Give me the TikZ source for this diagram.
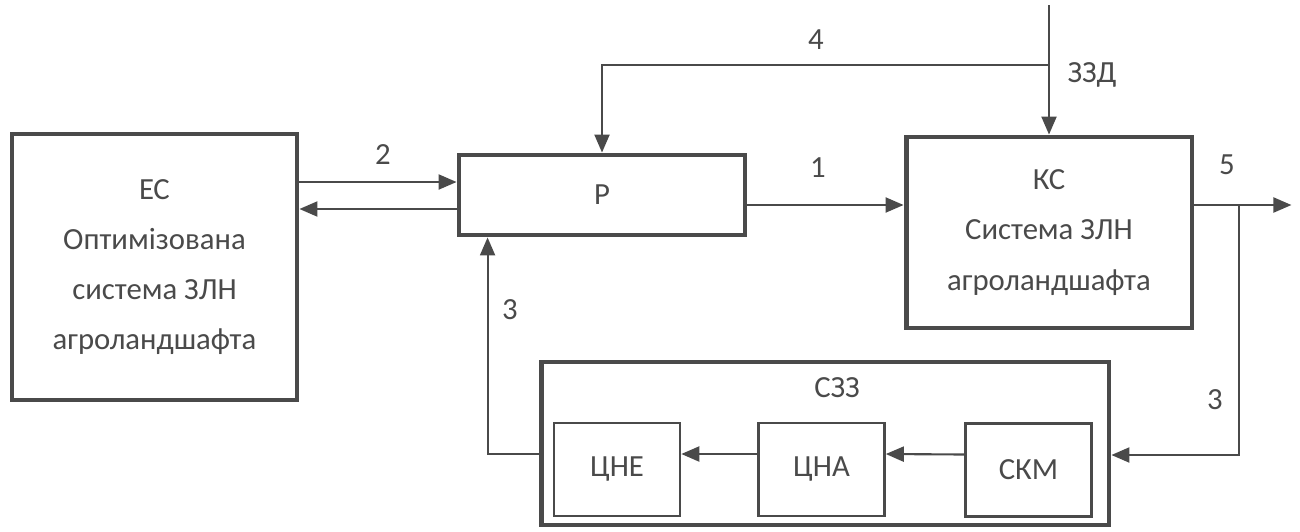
\documentclass[tikz,border=0pt]{standalone}
\usepackage{fontspec}
\setmainfont{Carlito}
\usetikzlibrary{arrows.meta}
\definecolor{ink}{HTML}{4A4A4A}

\begin{document}
\begin{tikzpicture}[x=0.02cm,y=-0.02cm,
  every node/.style={font=\fontsize{17.5}{28.5}\selectfont,text=ink},
  bigbox/.style={draw=ink,line width=2.8pt,align=center,inner sep=0pt},
  smallbox/.style={draw=ink,line width=1.5pt,minimum width=2.52cm,minimum height=1.86cm},
  link/.style={draw=ink,line width=1.2pt,-{Triangle[length=0.36cm,width=0.3cm]}}
]
\useasboundingbox (0,0) rectangle (1300,531);

\node[bigbox,minimum width=5.7cm,minimum height=5.32cm] (es) at (154.5,267) {ЕС\\Оптимізована\\система ЗЛН\\агроландшафта};
\node[bigbox,minimum width=5.72cm,minimum height=1.6cm] (r) at (602,195) {Р};
\node[bigbox,minimum width=5.72cm,minimum height=3.82cm] (ks) at (1049,232.5) {КС\\Система ЗЛН\\агроландшафта};
\node[bigbox,minimum width=11.36cm,minimum height=3.26cm] (szz) at (825,443.5) {};
\node (szzname) at (837,388) {СЗЗ};
\node[smallbox] (cne) at (617,469.5) {ЦНЕ};
\node[smallbox] (cna) at (821.5,469.5) {ЦНА};
\node[smallbox] (skm) at (1028.5,470) {СКМ};

% ES <-> R
\coordinate (r2in) at ([yshift=0.26cm]r.west);
\coordinate (r2out) at ([yshift=-0.28cm]r.west);
\draw[link] (es.east |- r2in) -- (r2in);
\draw[link] (r2out) -- (es.east |- r2out);
\node (l2) at (383,155) {2};

% R -> KS
\coordinate (r1) at ([yshift=-0.2cm]r.east);
\draw[link] (r1) -- (ks.west |- r1);
\node (l1) at (818,168) {1};

% ZZD and line 4
\coordinate (zzd) at (1049,5);
\coordinate (j4) at (1049,65);
\draw[link] (zzd) -- (ks.north);
\draw[link] (j4) -| (r.north);
\node (l4) at (816,40) {4};
\node (lzzd) at (1092,75) {ЗЗД};

% output 5 and feedback 3
\coordinate (ks5) at ([yshift=0.55cm]ks.east);
\coordinate (br) at ([xshift=0.9cm]ks5);
\coordinate (s3) at ([yshift=-0.23cm]szz.east);
\coordinate (f3) at ([yshift=-0.21cm]szz.west);
\draw[link] (ks5) -- ++(97,0);
\draw[link] (br) |- (s3);
\draw[link] (f3) -| ([xshift=0.62cm]r.south west);
\node (l5) at (1227,165) {5};
\node (l3r) at (1215,400) {3};
\node (l3l) at (510,310) {3};

% inside SZZ
\draw[link] ([yshift=0.31cm]skm.west) -- ([yshift=0.31cm]cna.east);
\draw[link] ([yshift=0.31cm]cna.west) -- ([yshift=0.31cm]cne.east);
\end{tikzpicture}
\end{document}
